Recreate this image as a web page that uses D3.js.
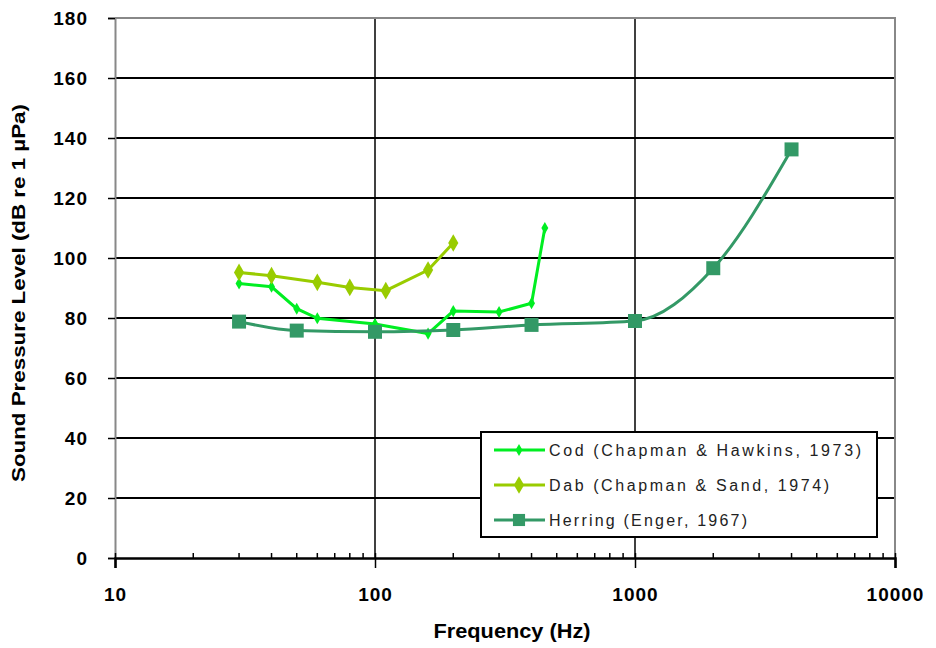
<!DOCTYPE html>
<html>
<head>
<meta charset="utf-8">
<script src="https://cdn.jsdelivr.net/npm/d3@7"></script>
<style>
  html, body { margin: 0; padding: 0; background: #fff; }
  svg { display: block; font-family: Arial, "Liberation Sans", sans-serif; }
</style>
</head>
<body>
<svg id="chart" width="936" height="648"></svg>
<script>
// Hearing thresholds of three fish species
const codFreq   = [30, 40, 50, 60, 100, 160, 200, 300, 400, 450];
const codLevel  = [91.5, 90.4, 83.1, 79.9, 78, 74.8, 82.3, 82, 84.9, 110];

const dabFreq   = [30, 40, 60, 80, 110, 160, 200];
const dabLevel  = [95.2, 94.1, 91.9, 90.2, 89.1, 96, 105];

const herringFreq  = [30, 50, 100, 200, 400, 1000, 2000, 4000];
const herringLevel = [78.8, 75.8, 75.4, 76, 77.7, 79, 96.6, 136.2];

const xTickValues = [10, 100, 1000, 10000];
const yTickValues = [0, 20, 40, 60, 80, 100, 120, 140, 160, 180];

const seriesNames = ["Cod (Chapman & Hawkins, 1973)", "Dab (Chapman & Sand, 1974)", "Herring (Enger, 1967)"];

const svg = d3.select("#chart");
const plotLeft = 115, plotRight = 895, plotTop = 18, plotBottom = 558;

const x = d3.scaleLog().domain([10, 10000]).range([plotLeft, plotRight]);
const y = d3.scaleLinear().domain([0, 180]).range([plotBottom, plotTop]);

// horizontal gridlines
svg.append("g").selectAll("line")
  .data(yTickValues.filter(v => v > 0 && v < 180))
  .join("line")
  .attr("x1", plotLeft).attr("x2", plotRight)
  .attr("y1", d => y(d)).attr("y2", d => y(d))
  .attr("stroke", "#000").attr("stroke-width", 2);

// vertical gridlines at the decades
svg.append("g").selectAll("line")
  .data([100, 1000])
  .join("line")
  .attr("x1", d => x(d)).attr("x2", d => x(d))
  .attr("y1", plotTop).attr("y2", plotBottom)
  .attr("stroke", "#000").attr("stroke-width", 1.5);

// plot area frame (top and right)
svg.append("path")
  .attr("d", `M${plotLeft},${plotTop}H${plotRight}V${plotBottom}`)
  .attr("fill", "none").attr("stroke", "#888").attr("stroke-width", 2);

// y axis
const yAxis = d3.axisLeft(y).tickValues(yTickValues).tickSize(7).tickPadding(20);
const gy = svg.append("g").attr("transform", `translate(${plotLeft},0)`).call(yAxis);
gy.select(".domain").attr("stroke", "#888").attr("stroke-width", 2);
gy.selectAll(".tick line").attr("stroke", "#000").attr("stroke-width", 1.5);
gy.selectAll(".tick text")
  .attr("font-size", 19).attr("font-weight", "bold").attr("fill", "#000")
  .attr("letter-spacing", 1)
  .attr("font-family", "Arial, 'Liberation Sans', sans-serif");

// x axis with log minor ticks
const minorTicks = [];
[10, 100, 1000].forEach(dec => { for (let k = 2; k <= 9; k++) minorTicks.push(dec * k); });
svg.append("g").selectAll("line")
  .data(minorTicks)
  .join("line")
  .attr("x1", d => x(d)).attr("x2", d => x(d))
  .attr("y1", plotBottom - 5).attr("y2", plotBottom)
  .attr("stroke", "#000").attr("stroke-width", 1.5);

const xAxis = d3.axisBottom(x).tickValues(xTickValues).tickFormat(d3.format("d")).tickSize(10).tickPadding(20);
const gx = svg.append("g").attr("transform", `translate(0,${plotBottom})`).call(xAxis);
gx.select(".domain").attr("stroke", "#000").attr("stroke-width", 2.5);
gx.selectAll(".tick line").attr("stroke", "#000").attr("stroke-width", 1.5).attr("y1", -5);
gx.selectAll(".tick text")
  .attr("font-size", 19).attr("font-weight", "bold").attr("fill", "#000")
  .attr("letter-spacing", 1)
  .attr("font-family", "Arial, 'Liberation Sans', sans-serif");

// axis titles
svg.append("text")
  .attr("x", 512).attr("y", 638)
  .attr("text-anchor", "middle")
  .attr("font-size", 21).attr("font-weight", "bold")
  .attr("textLength", 157).attr("lengthAdjust", "spacingAndGlyphs")
  .text("Frequency (Hz)");

svg.append("text")
  .attr("transform", "translate(25,293) rotate(-90)")
  .attr("text-anchor", "middle")
  .attr("font-size", 18).attr("font-weight", "bold")
  .attr("textLength", 378).attr("lengthAdjust", "spacingAndGlyphs")
  .text("Sound Pressure Level (dB re 1 µPa)");

// series
const series = [
  { name: seriesNames[0], freq: codFreq, level: codLevel, color: "#00ee22", marker: "diamond", size: 42, curve: d3.curveLinear, width: 3 },
  { name: seriesNames[1], freq: dabFreq, level: dabLevel, color: "#99cc00", marker: "diamond", size: 90, curve: d3.curveLinear, width: 3 },
  { name: seriesNames[2], freq: herringFreq, level: herringLevel, color: "#339966", marker: "square", size: 196, curve: d3.curveMonotoneX, width: 3 }
];

const plot = svg.append("g");
series.forEach(s => {
  const pts = s.freq.map((f, i) => [f, s.level[i]]);
  const line = d3.line().x(d => x(d[0])).y(d => y(d[1])).curve(s.curve);
  plot.append("path")
    .attr("d", line(pts))
    .attr("fill", "none").attr("stroke", s.color).attr("stroke-width", s.width);
  const sym = d3.symbol().type(s.marker === "square" ? d3.symbolSquare : d3.symbolDiamond).size(s.size);
  plot.append("g").selectAll("path")
    .data(pts)
    .join("path")
    .attr("transform", d => `translate(${x(d[0])},${y(d[1])})`)
    .attr("d", sym())
    .attr("fill", s.color);
});

// legend
const lg = svg.append("g");
lg.append("rect")
  .attr("x", 481).attr("y", 432).attr("width", 396).attr("height", 105)
  .attr("fill", "#fff").attr("stroke", "#000").attr("stroke-width", 2);
const legendWidths = [312, 280, 198];
series.forEach((s, i) => {
  const cy = 450 + i * 35;
  lg.append("line")
    .attr("x1", 494).attr("x2", 545).attr("y1", cy).attr("y2", cy)
    .attr("stroke", s.color).attr("stroke-width", 3);
  const sym = d3.symbol().type(s.marker === "square" ? d3.symbolSquare : d3.symbolDiamond).size(s.size * (i === 2 ? 0.75 : 1));
  lg.append("path")
    .attr("transform", `translate(519,${cy})`)
    .attr("d", sym())
    .attr("fill", s.color);
  lg.append("text")
    .attr("x", 549).attr("y", cy + 6)
    .attr("font-size", 16).attr("fill", "#222")
    .attr("textLength", legendWidths[i]).attr("lengthAdjust", "spacing")
    .text(s.name);
});
</script>
</body>
</html>
